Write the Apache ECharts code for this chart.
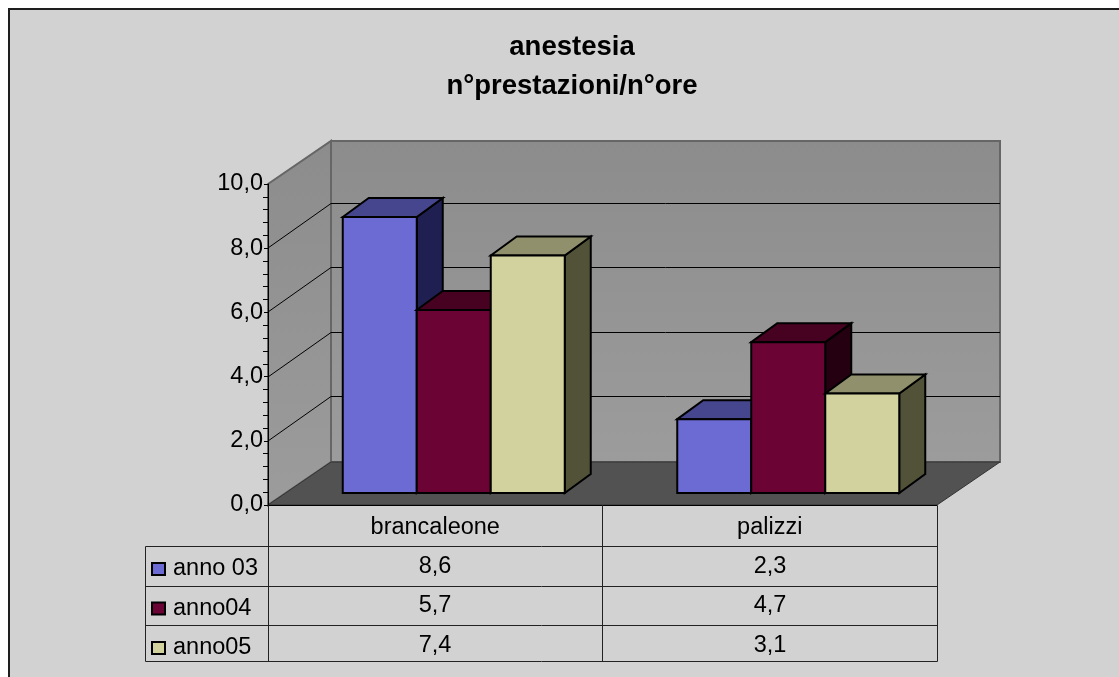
<!DOCTYPE html>
<html>
<head>
<meta charset="utf-8">
<style>html,body{margin:0;padding:0;background:#fff}#c{width:1119px;height:677px}</style>
<script src="https://cdn.jsdelivr.net/npm/echarts@6/dist/echarts.min.js"></script>
</head>
<body>
<div id="c"></div>
<script>
var categories = ['brancaleone', 'palizzi'];
var seriesNames = ['anno 03', 'anno04', 'anno05'];
var anno03 = [8.6, 2.3];
var anno04 = [5.7, 4.7];
var anno05 = [7.4, 3.1];
var gridValues = [2, 4, 6, 8];
var titleLines = 'anestesia\nn°prestazioni/n°ore';

var FONT = '"Liberation Sans", Arial, sans-serif';
var faces = [
  {front: '#6B6BD3', top: '#46468F', side: '#1F1F52'},
  {front: '#6B0335', top: '#480221', side: '#240010'},
  {front: '#D2D29E', top: '#90906C', side: '#525239'}
];
var allValues = [anno03, anno04, anno05];
var wallDX = 63, wallDY = -43, gridDY = -45, barOX = 18.5, barOY = -12, barDX = 26, barDY = -19, barW = 74;

function comma(v) { return v.toFixed(1).replace('.', ','); }

function renderWalls(params, api) {
  var cs = params.coordSys, x0 = cs.x, x1 = cs.x + cs.width, yB = cs.y + cs.height, yT = cs.y;
  var wallFill = {type: 'linear', x: 0, y: 0, x2: 0, y2: 1, colorStops: [{offset: 0, color: '#8C8C8C'}, {offset: 1, color: '#9C9C9C'}]};
  var edge = {stroke: '#666666', lineWidth: 2};
  var kids = [
    {type: 'polygon', shape: {points: [[x0 + wallDX, yT + wallDY], [x1 + wallDX, yT + wallDY], [x1 + wallDX, yB + wallDY], [x0 + wallDX, yB + wallDY]]}, style: Object.assign({fill: wallFill}, edge)},
    {type: 'polygon', shape: {points: [[x0, yT], [x0 + wallDX, yT + wallDY], [x0 + wallDX, yB + wallDY], [x0, yB]]}, style: Object.assign({fill: wallFill}, edge)},
    {type: 'polygon', shape: {points: [[x0, yB], [x0 + wallDX, yB + wallDY], [x1 + wallDX, yB + wallDY], [x1, yB]]}, style: {fill: '#525252', stroke: '#333333', lineWidth: 1}}
  ];
  gridValues.forEach(function (v) {
    var y = Math.round(api.coord([0, v])[1]);
    kids.push({type: 'polyline', shape: {points: [[x0, y], [x0 + wallDX, y + gridDY + 0.5], [x1 + wallDX, y + gridDY + 0.5]]}, style: {fill: null, stroke: '#000', lineWidth: 1}});
  });
  return {type: 'group', children: kids};
}

function makeBarRenderer(s) {
  return function (params, api) {
    var cat = api.value(0), val = api.value(1);
    var c = api.coord([cat, val]), b = api.coord([cat, 0]);
    var l = c[0] - 1.5 * barW + s * barW + barOX, r = l + barW;
    var t = c[1] + barOY, bo = b[1] + barOY;
    var st = function (fill) { return {fill: fill, stroke: '#000', lineWidth: 2, lineJoin: 'miter'}; };
    return {type: 'group', children: [
      {type: 'polygon', shape: {points: [[r, t], [r + barDX, t + barDY], [r + barDX, bo + barDY], [r, bo]]}, style: st(faces[s].side)},
      {type: 'polygon', shape: {points: [[l, t], [l + barDX, t + barDY], [r + barDX, t + barDY], [r, t]]}, style: st(faces[s].top)},
      {type: 'rect', shape: {x: l, y: t, width: barW, height: bo - t}, style: st(faces[s].front)}
    ]};
  };
}

var series = [{
  type: 'custom', silent: true, z: 1, data: [[0, 0]], renderItem: renderWalls,
  encode: {x: 0, y: 1}
}];
seriesNames.forEach(function (name, s) {
  series.push({
    type: 'custom', name: name, silent: true, z: 2 + s,
    itemStyle: {color: faces[s].front},
    data: categories.map(function (c, i) { return [i, allValues[s][i]]; }),
    encode: {x: 0, y: 1},
    renderItem: makeBarRenderer(s)
  });
});

// data table
var tableX = [145, 268, 602, 937], rowY = [505, 546, 586, 625, 661];
var colCenters = [435, 770], rowCenters = [566.5, 605.5, 645.5];
var line = function (x1, y1, x2, y2) {
  return {type: 'line', z: 20, silent: true, shape: {x1: x1 + 0.5, y1: y1 + 0.5, x2: x2 + 0.5, y2: y2 + 0.5}, style: {stroke: '#222', lineWidth: 1}};
};
var graphics = [
  {type: 'rect', z: -100, silent: true, shape: {x: 9, y: 9, width: 1300, height: 900}, style: {fill: '#D2D2D2', stroke: '#1E1E1E', lineWidth: 2}},
  line(tableX[1], rowY[0], tableX[1], rowY[4]),
  line(tableX[2], rowY[0], tableX[2], rowY[4]),
  line(tableX[3], rowY[0], tableX[3], rowY[4]),
  line(tableX[0], rowY[1], tableX[0], rowY[4])
];
for (var r = 1; r < rowY.length; r++) graphics.push(line(tableX[0], rowY[r], tableX[3], rowY[r]));
allValues.forEach(function (vals, s) {
  vals.forEach(function (v, i) {
    graphics.push({type: 'text', z: 21, silent: true, x: colCenters[i], y: rowCenters[s],
      style: {text: comma(v), font: '23.5px ' + FONT, fill: '#000', textAlign: 'center', textVerticalAlign: 'middle'}});
  });
});

var chart = echarts.init(document.getElementById('c'), null, {renderer: 'canvas'});
chart.setOption({
  animation: false,
  backgroundColor: '#ffffff',
  title: {
    text: titleLines, left: 567, top: 23, textAlign: 'center',
    textStyle: {fontFamily: FONT, fontWeight: 'bold', fontSize: 27.5, lineHeight: 39, color: '#000'}
  },
  legend: {
    data: seriesNames, orient: 'vertical', left: 146, top: 552, selectedMode: false,
    itemWidth: 13, itemHeight: 12, itemGap: 15.5, icon: 'rect',
    itemStyle: {borderColor: '#000', borderWidth: 2},
    textStyle: {fontFamily: FONT, fontSize: 23.5, color: '#000', padding: [0, 0, 5, 3]}
  },
  grid: {left: 268, right: 182, top: 184, bottom: 172, containLabel: false},
  xAxis: {
    type: 'category', data: categories, boundaryGap: true,
    axisLine: {show: true, lineStyle: {color: '#000', width: 1}},
    axisTick: {show: false},
    axisLabel: {fontFamily: FONT, fontSize: 23.5, color: '#000', margin: 11, interval: 0},
    z: 10
  },
  yAxis: [{
    type: 'value', min: 0, max: 10, interval: 2, position: 'left',
    axisLine: {show: true, lineStyle: {color: '#000', width: 1}},
    axisTick: {show: true, length: 4, lineStyle: {color: '#000'}},
    axisLabel: {fontFamily: FONT, fontSize: 23.5, color: '#000', margin: 5, formatter: comma},
    splitLine: {show: false},
    z: 10
  }, {
    type: 'value', min: 0, max: 10, interval: 2, position: 'left',
    axisLine: {show: false},
    axisTick: {show: false},
    minorTick: {show: true, splitNumber: 5, length: 5, lineStyle: {color: '#000'}},
    axisLabel: {show: false},
    splitLine: {show: false},
    z: 10
  }],
  graphic: {elements: graphics},
  series: series
});
</script>
</body>
</html>
